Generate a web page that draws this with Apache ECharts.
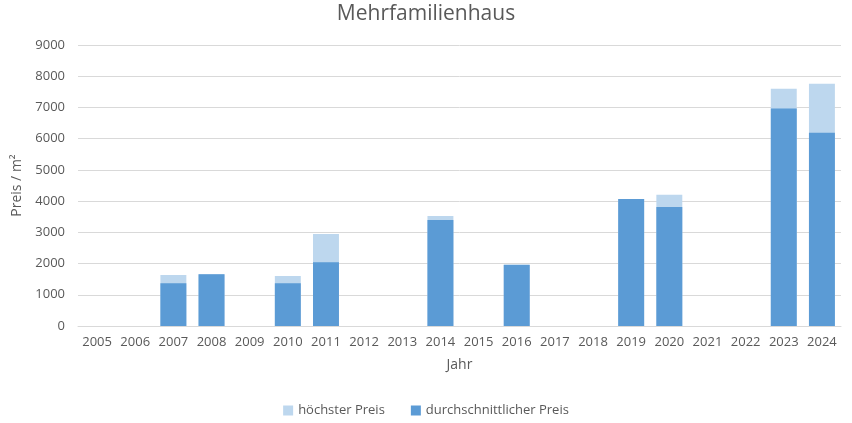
<!DOCTYPE html>
<html><head><meta charset="utf-8">
<script src="https://cdn.jsdelivr.net/npm/echarts@6/dist/echarts.min.js"></script>
<style>html,body{margin:0;padding:0;background:#fff}#c{width:852px;height:423px}</style>
</head><body><div id="c"></div>
<script>
var categories = ['2005','2006','2007','2008','2009','2010','2011','2012','2013','2014','2015','2016','2017','2018','2019','2020','2021','2022','2023','2024'];
var maxPrice = [null,null,1630,1660,null,1600,2945,null,null,3520,null,1980,null,null,4070,4200,null,null,7600,7760];
var avgPrice = [null,null,1370,1660,null,1370,2045,null,null,3395,null,1950,null,null,4070,3810,null,null,6970,6190];
var yTicks = [0,1000,2000,3000,4000,5000,6000,7000,8000,9000];

var font = '"Open Sans", sans-serif';
var chart = echarts.init(document.getElementById('c'));
chart.setOption({
  animation: false,
  title: { text: 'Mehrfamilienhaus', left: 'center', top: -1,
    textStyle: { fontFamily: font, fontSize: 21, fontWeight: 'normal', color: '#595959' } },
  legend: { bottom: 1, left: 'center', icon: 'rect', itemWidth: 10, itemHeight: 10, itemGap: 26,
    textStyle: { fontFamily: font, fontSize: 13, color: '#595959' },
    data: ['höchster Preis','durchschnittlicher Preis'] },
  grid: { left: 78, right: 11, top: 45, bottom: 97 },
  xAxis: { type: 'category', data: categories, name: 'Jahr', nameLocation: 'middle', nameGap: 32,
    nameTextStyle: { fontFamily: font, fontSize: 14, color: '#595959' },
    axisLine: { lineStyle: { color: '#d9d9d9' } }, axisTick: { show: false },
    axisLabel: { fontFamily: font, fontSize: 13, color: '#595959', margin: 10, interval: 0 } },
  yAxis: { type: 'value', min: yTicks[0], max: yTicks[yTicks.length-1], interval: 1000,
    name: 'Preis / m²', nameLocation: 'middle', nameGap: 53, nameRotate: 90,
    nameTextStyle: { fontFamily: font, fontSize: 14, color: '#595959' },
    axisLine: { show: false }, axisTick: { show: false },
    axisLabel: { fontFamily: font, fontSize: 13, color: '#595959', margin: 13,
      formatter: function (v) { return String(v); } },
    splitLine: { lineStyle: { color: '#d9d9d9' } } },
  series: [
    { name: 'höchster Preis', type: 'bar', data: maxPrice, barWidth: '68%', barGap: '-100%',
      itemStyle: { color: '#bdd7ee' } },
    { name: 'durchschnittlicher Preis', type: 'bar', data: avgPrice, barWidth: '68%', barGap: '-100%',
      itemStyle: { color: '#5b9bd5' } }
  ]
});
</script></body></html>
